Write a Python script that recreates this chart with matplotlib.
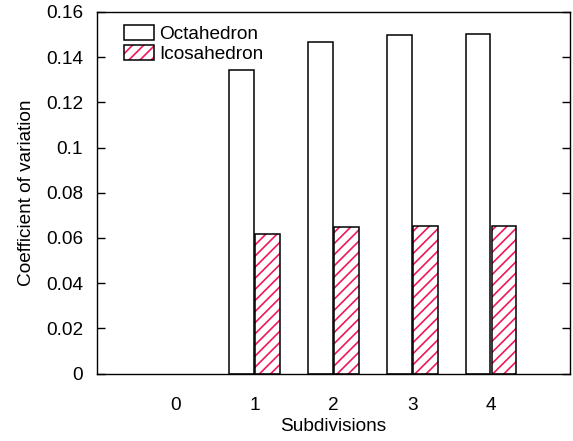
import matplotlib; matplotlib.use("Agg")
import matplotlib.pyplot as plt
from matplotlib.patches import Patch
from matplotlib.legend_handler import HandlerTuple
import numpy as np

plt.rcParams['font.family'] = ['Liberation Sans', 'DejaVu Sans']
plt.rcParams['hatch.linewidth'] = 1.2

# ---- data ----
subdivisions = [0, 1, 2, 3, 4]
octahedron = [0, 0.1345, 0.1467, 0.1496, 0.1501]
icosahedron = [0, 0.0618, 0.0648, 0.0651, 0.0653]
yticks = [0, 0.02, 0.04, 0.06, 0.08, 0.1, 0.12, 0.14, 0.16]
ytick_labels = ['0', '0.02', '0.04', '0.06', '0.08', '0.1', '0.12', '0.14', '0.16']

PINK = '#f0185a'
FS = 13.7
x = np.array(subdivisions, dtype=float)
oct_v = np.array(octahedron); ico_v = np.array(icosahedron)
w, off = 0.31, 0.165
m_o, m_i = oct_v > 0, ico_v > 0   # category 0 has no bars drawn

fig = plt.figure(figsize=(5.73, 4.41), dpi=100)
ax = fig.add_axes([0.169, 0.153, 0.826, 0.820])

ax.bar(x[m_o] - off, oct_v[m_o], w, facecolor='white', edgecolor='black', linewidth=1.1)
ax.bar(x[m_i] + off, ico_v[m_i], w, facecolor='white', edgecolor=PINK, hatch='///', linewidth=0)
ax.bar(x[m_i] + off, ico_v[m_i], w, facecolor='none', edgecolor='black', linewidth=1.1)

ax.set_xlim(-1, 5)
ax.set_ylim(0, 0.16)
ax.set_xticks(subdivisions)
ax.set_yticks(yticks)
ax.set_yticklabels(ytick_labels)
ax.tick_params(axis='x', length=0, labelsize=FS, pad=17)
ax.tick_params(axis='y', direction='in', length=6, labelsize=FS, right=True, width=1, pad=10)
ax.set_xlabel('Subdivisions', fontsize=FS, labelpad=3)
ax.set_ylabel('Coefficient of variation', fontsize=FS, labelpad=8)
for s in ax.spines.values():
    s.set_linewidth(1.0)

h_oct = Patch(facecolor='white', edgecolor='black', linewidth=1.1)
h_ico = (Patch(facecolor='white', edgecolor=PINK, hatch='///', linewidth=0),
         Patch(facecolor='none', edgecolor='black', linewidth=1.1))
ax.legend([h_oct, h_ico], ['Octahedron', 'Icosahedron'], loc='upper left',
          frameon=False, fontsize=FS, handlelength=1.55, handleheight=0.85,
          handletextpad=0.3, labelspacing=0.08, borderaxespad=0.3,
          bbox_to_anchor=(0.03, 1.0),
          handler_map={tuple: HandlerTuple(ndivide=1, pad=0)})

fig.savefig('out.png', dpi=100)
